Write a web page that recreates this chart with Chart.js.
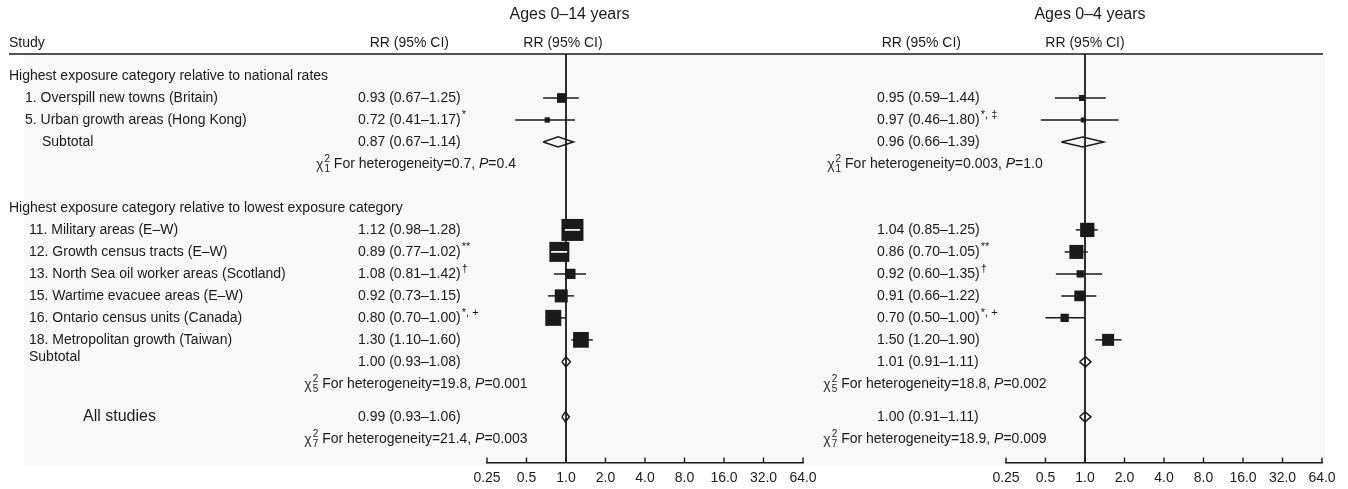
<!DOCTYPE html>
<html><head><meta charset="utf-8">
<script src="https://cdn.jsdelivr.net/npm/chart.js@4"></script>
<style>
html,body{margin:0;padding:0;background:#fff;}
#wrap{position:relative;width:1348px;height:489px;}
#wrap canvas{position:absolute;left:0;top:0;}
</style></head><body>
<div id="wrap"><canvas id="c1" width="1348" height="489"></canvas><canvas id="c2" width="1348" height="489"></canvas></div>
<script>
const FONT = '"Liberation Sans", Arial, Helvetica, sans-serif';
const INK = '#1a1a1a';

// ---------- data ----------
const groupTitles = ['Highest exposure category relative to national rates',
                     'Highest exposure category relative to lowest exposure category'];
const studies = ['1. Overspill new towns (Britain)', '5. Urban growth areas (Hong Kong)',
  '11. Military areas (E\u2013W)', '12. Growth census tracts (E\u2013W)',
  '13. North Sea oil worker areas (Scotland)', '15. Wartime evacuee areas (E\u2013W)',
  '16. Ontario census units (Canada)', '18. Metropolitan growth (Taiwan)'];
const studyGroup = [0, 0, 1, 1, 1, 1, 1, 1];
const pooledLabels = ['Subtotal', 'Subtotal', 'All studies'];
const chiDf = ['1', '5', '7'];

// Ages 0–14 years
const rr014 = [0.93, 0.72, 1.12, 0.89, 1.08, 0.92, 0.80, 1.30];
const lo014 = [0.67, 0.41, 0.98, 0.77, 0.81, 0.73, 0.70, 1.10];
const hi014 = [1.25, 1.17, 1.28, 1.02, 1.42, 1.15, 1.00, 1.60];
const note014 = ['', '*', '', '**', '\u2020', '', '*, +', ''];
const wt014 = [23.5, 7, 121, 100, 26.5, 42, 64, 61.6];   // relative weight (box area)
const poolRr014 = [0.87, 1.00, 0.99];
const poolLo014 = [0.67, 0.93, 0.93];
const poolHi014 = [1.14, 1.08, 1.06];
const chi014 = ['0.7', '19.8', '21.4'];
const p014 = ['0.4', '0.001', '0.003'];

// Ages 0–4 years
const rr04 = [0.95, 0.97, 1.04, 0.86, 0.92, 0.91, 0.70, 1.50];
const lo04 = [0.59, 0.46, 0.85, 0.70, 0.60, 0.66, 0.50, 1.20];
const hi04 = [1.44, 1.80, 1.25, 1.05, 1.35, 1.22, 1.00, 1.90];
const note04 = ['', '*, \u2021', '', '**', '\u2020', '', '*, +', ''];
const wt04 = [9, 6.25, 51, 49, 13.3, 28.6, 17.2, 36];
const poolRr04 = [0.96, 1.01, 1.00];
const poolLo04 = [0.66, 0.91, 0.91];
const poolHi04 = [1.39, 1.11, 1.11];
const chi04 = ['0.003', '18.8', '18.9'];
const p04 = ['1.0', '0.002', '0.009'];

const xTicks = [0.25, 0.5, 1, 2, 4, 8, 16, 32, 64];
const xTickLabels = ['0.25', '0.5', '1.0', '2.0', '4.0', '8.0', '16.0', '32.0', '64.0'];

// ---------- layout (row slots, half-row units) ----------
const Y_MIN = -2, Y_MAX = 35.2;
function buildSlots() {
  const study = [], groupTitle = [], sub = [], chi = [];
  let s = 0;
  for (let g = 0; g < groupTitles.length; g++) {
    groupTitle.push(s); s += 2;
    studies.forEach((_, i) => { if (studyGroup[i] === g) { study[i] = s; s += 2; } });
    sub.push(s); s += 2;
    chi.push(s); s += 4;
  }
  s -= 1;
  sub.push(s); chi.push(s + 2);
  return { study, groupTitle, sub, chi, header: -3, title: -5.55 };
}
const SL = buildSlots();
const boxSide = w => 2 * Math.sqrt(w);
const f2 = v => v.toFixed(2);

const panels = [
  { id: 'c1', title: 'Ages 0\u201314 years', rr: rr014, lo: lo014, hi: hi014, note: note014, wt: wt014,
    prr: poolRr014, plo: poolLo014, phi: poolHi014, chi: chi014, p: p014,
    area: [487, 803], textX: 358, chiX: 416, head1Right: 449, head2X: 563, titleX: 569.5, main: true },
  { id: 'c2', title: 'Ages 0\u20134 years', rr: rr04, lo: lo04, hi: hi04, note: note04, wt: wt04,
    prr: poolRr04, plo: poolLo04, phi: poolHi04, chi: chi04, p: p04,
    area: [1006, 1322], textX: 877, chiX: 935, head1Right: 961, head2X: 1085, titleX: 1090, main: false }
];

function txt(ctx, s, x, y, o = {}) {
  ctx.font = (o.italic ? 'italic ' : '') + (o.size || 14) + 'px ' + FONT;
  ctx.fillStyle = o.color || INK;
  ctx.textAlign = o.align || 'left';
  ctx.textBaseline = 'middle';
  ctx.fillText(s, x, y);
}
function w(ctx, s, size, italic) {
  ctx.font = (italic ? 'italic ' : '') + size + 'px ' + FONT;
  return ctx.measureText(s).width;
}

function makePanel(P) {
  const datasets = [];
  // study boxes
  datasets.push({
    data: P.rr.map((v, i) => ({ x: v, y: SL.study[i] })),
    pointStyle: 'rect', backgroundColor: INK, borderWidth: 0, showLine: false,
    pointRadius: c => boxSide(P.wt[c.dataIndex]) / Math.SQRT2, order: 0
  });
  // CI whiskers
  P.rr.forEach((v, i) => datasets.push({
    data: [{ x: P.lo[i], y: SL.study[i] }, { x: P.hi[i], y: SL.study[i] }],
    showLine: true, borderColor: INK, borderWidth: 1.5, pointRadius: 0, order: 2
  }));
  // pooled diamonds
  const h = 0.46;
  P.prr.forEach((v, i) => {
    const s = SL.sub[i];
    datasets.push({
      data: [{ x: P.plo[i], y: s }, { x: v, y: s - h }, { x: P.phi[i], y: s }, { x: v, y: s + h }, { x: P.plo[i], y: s }],
      showLine: true, borderColor: INK, borderWidth: 1.5, pointRadius: 0, fill: false,
      borderJoinStyle: 'miter', tension: 0, order: 1
    });
  });
  // reference line at RR = 1
  datasets.push({
    data: [{ x: 1, y: Y_MIN }, { x: 1, y: Y_MAX }],
    showLine: true, borderColor: INK, borderWidth: 1.8, pointRadius: 0, order: 3
  });

  const plugin = {
    id: 'forest' + P.id,
    beforeDraw(chart) {
      if (!P.main) return;
      const ctx = chart.ctx, top = chart.chartArea.top;
      ctx.save();
      ctx.fillStyle = '#f8f8f8';
      ctx.fillRect(24, top, 1301, 412);
      ctx.strokeStyle = INK; ctx.lineWidth = 1.4;
      ctx.beginPath(); ctx.moveTo(9, top); ctx.lineTo(1323, top); ctx.stroke();
      ctx.restore();
    },
    afterDraw(chart) {
      const ctx = chart.ctx, xs = chart.scales.x, ys = chart.scales.y;
      const Y = v => ys.getPixelForValue(v);
      ctx.save();
      // white CI line when the interval lies inside its box
      P.rr.forEach((v, i) => {
        const xc = xs.getPixelForValue(v), half = boxSide(P.wt[i]) / 2;
        const a = xs.getPixelForValue(P.lo[i]), b = xs.getPixelForValue(P.hi[i]);
        if (a >= xc - half && b <= xc + half) {
          ctx.strokeStyle = '#fff'; ctx.lineWidth = 1.7;
          ctx.beginPath(); ctx.moveTo(a, Y(SL.study[i])); ctx.lineTo(b, Y(SL.study[i])); ctx.stroke();
        }
      });
      // upward tick marks
      const bottom = chart.chartArea.bottom;
      ctx.strokeStyle = INK; ctx.lineWidth = 1.4;
      ctx.beginPath();
      xs.ticks.forEach(t => {
        const px = xs.getPixelForValue(t.value);
        ctx.moveTo(px, bottom); ctx.lineTo(px, bottom - 5.5);
      });
      ctx.stroke();

      // headers
      txt(ctx, P.title, P.titleX, Y(SL.title), { size: 16, align: 'center' });
      txt(ctx, 'RR (95% CI)', P.head1Right, Y(SL.header), { align: 'right' });
      txt(ctx, 'RR (95% CI)', P.head2X, Y(SL.header), { align: 'center' });
      if (P.main) {
        txt(ctx, 'Study', 9, Y(SL.header));
        groupTitles.forEach((g, i) => txt(ctx, g, 9, Y(SL.groupTitle[i])));
        studies.forEach((s, i) => txt(ctx, s, studyGroup[i] === 0 ? 25 : 29, Y(SL.study[i])));
        txt(ctx, pooledLabels[0], 42, Y(SL.sub[0]));
        txt(ctx, pooledLabels[1], 29, Y(SL.sub[1] - 0.45));
        txt(ctx, pooledLabels[2], 83, Y(SL.sub[2]), { size: 16 });
      }
      // RR (95% CI) values
      const rrText = (a, l, u) => f2(a) + ' (' + f2(l) + '\u2013' + f2(u) + ')';
      P.rr.forEach((v, i) => {
        const s = rrText(v, P.lo[i], P.hi[i]), y = Y(SL.study[i]);
        txt(ctx, s, P.textX, y);
        if (P.note[i]) txt(ctx, P.note[i], P.textX + w(ctx, s, 14) + 1, y - 5, { size: 11 });
      });
      P.prr.forEach((v, i) => txt(ctx, rrText(v, P.plo[i], P.phi[i]), P.textX, Y(SL.sub[i])));
      // heterogeneity lines
      P.chi.forEach((c, i) => {
        const y = Y(SL.chi[i]);
        const mid = ' For heterogeneity=' + c + ', ', tail = '=' + P.p[i];
        const wChi = w(ctx, '\u03c7', 14), wScr = Math.max(w(ctx, '2', 10), w(ctx, chiDf[i], 10));
        const total = wChi + 1 + wScr + w(ctx, mid, 14) + w(ctx, 'P', 14, true) + w(ctx, tail, 14);
        let x = P.chiX - total / 2;
        txt(ctx, '\u03c7', x, y + 1, { color: '#333' }); x += wChi + 1;
        txt(ctx, '2', x, y - 5, { size: 10 });
        txt(ctx, chiDf[i], x, y + 5, { size: 10 });
        x += wScr;
        txt(ctx, mid, x, y); x += w(ctx, mid, 14);
        txt(ctx, 'P', x, y, { italic: true }); x += w(ctx, 'P', 14, true);
        txt(ctx, tail, x, y);
      });
      ctx.restore();
    }
  };

  return new Chart(document.getElementById(P.id), {
    type: 'scatter',
    data: { datasets },
    options: {
      responsive: false, animation: false, events: [],
      layout: { padding: { left: P.area[0], right: 1348 - P.area[1], top: 54, bottom: 0 } },
      plugins: { legend: { display: false }, tooltip: { enabled: false } },
      scales: {
        x: {
          type: 'logarithmic', min: 0.25, max: 64,
          afterBuildTicks: s => { s.ticks = xTicks.map(v => ({ value: v })); },
          afterFit: s => { s.height = 26; },
          ticks: { callback: (v, i) => xTickLabels[i], autoSkip: false, maxRotation: 0, padding: 7,
                   color: INK, font: { family: FONT, size: 14 } },
          grid: { display: false, drawTicks: false, tickLength: 0 },
          border: { display: true, color: INK, width: 1.5 }
        },
        y: { type: 'linear', reverse: true, min: Y_MIN, max: Y_MAX, display: false }
      }
    },
    plugins: [plugin]
  });
}
panels.forEach(makePanel);
</script>
</body></html>
